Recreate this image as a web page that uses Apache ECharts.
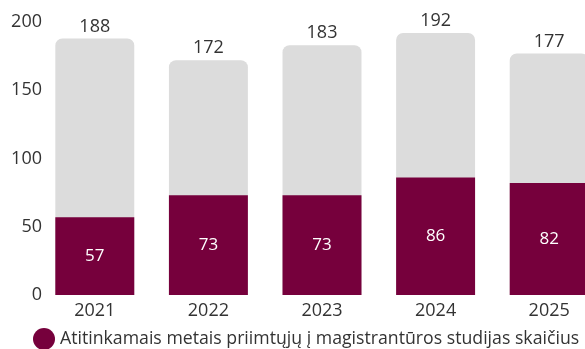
<!DOCTYPE html>
<html><head><meta charset="utf-8">
<script src="https://cdn.jsdelivr.net/npm/echarts@6/dist/echarts.min.js"></script>
<style>html,body{margin:0;padding:0;background:#fff;overflow:hidden}#c{width:612px;height:349px}</style>
</head><body><div id="c"></div>
<script>
const categories = ['2021', '2022', '2023', '2024', '2025'];
const totals = [188, 172, 183, 192, 177];
const admitted = [57, 73, 73, 86, 82];
const yTicks = [0, 50, 100, 150, 200];
const seriesName = 'Atitinkamais metais priimtųjų į magistrantūros studijas skaičius';

const font = 'Open Sans';
const chart = echarts.init(document.getElementById('c'), null, {renderer: 'canvas'});
chart.setOption({
  animation: false,
  textStyle: {fontFamily: font},
  grid: {left: 38, top: 22, width: 568, height: 273, containLabel: false},
  legend: {
    data: [seriesName], left: 28, top: 323, icon: 'circle', itemWidth: 22, itemHeight: 22, itemGap: 5,
    textStyle: {fontSize: 17.7, color: '#333', fontFamily: font}
  },
  xAxis: {
    type: 'category', data: categories,
    axisLine: {show: false}, axisTick: {show: false},
    axisLabel: {fontSize: 18, color: '#333', margin: 7}
  },
  yAxis: {
    type: 'value', min: yTicks[0], max: yTicks[yTicks.length - 1], interval: 50,
    splitLine: {show: false}, axisLine: {show: false}, axisTick: {show: false},
    axisLabel: {fontSize: 18, color: '#333', margin: -4}
  },
  series: [
    {
      name: 'total', type: 'bar', data: totals, barWidth: '69.5%', barGap: '-100%',
      itemStyle: {color: '#dcdcdc', borderRadius: [7, 7, 0, 0]},
      label: {show: true, position: 'top', fontSize: 18, color: '#333', distance: 3}
    },
    {
      name: seriesName, type: 'bar', data: admitted, barWidth: '69.5%',
      itemStyle: {color: '#76003c'},
      label: {show: true, position: 'inside', fontSize: 17, color: '#fff'}
    }
  ]
});
</script></body></html>
